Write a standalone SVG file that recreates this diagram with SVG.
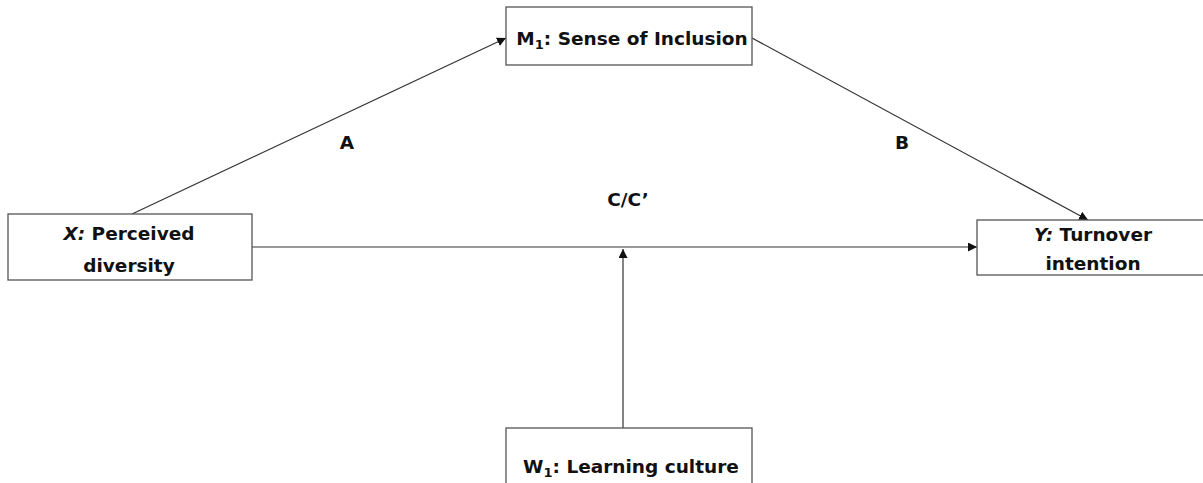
<svg xmlns="http://www.w3.org/2000/svg" width="1203" height="483" viewBox="0 0 1203 483">
<defs>
<style>
.box{fill:#fff;stroke:#555;stroke-width:1.3}
.t{font-family:"DejaVu Sans",Verdana,sans-serif;font-weight:bold;font-size:18.5px;fill:#111;text-anchor:middle}
.sub{font-size:13px}
.ln{stroke:#333;stroke-width:1.2;fill:none}
</style>
<marker id="ah" viewBox="0 0 10 10" refX="10" refY="5" markerWidth="9" markerHeight="9" markerUnits="userSpaceOnUse" orient="auto">
<path d="M0,0 L10,5 L0,10 Z" fill="#111"/>
</marker>
</defs>
<rect width="1203" height="483" fill="#fff"/>
<g id="connectors">
<line class="ln" x1="132" y1="214" x2="506" y2="38" marker-end="url(#ah)"/>
<line class="ln" x1="752" y1="38" x2="1088" y2="220" marker-end="url(#ah)"/>
<line class="ln" x1="252" y1="247" x2="977" y2="247" marker-end="url(#ah)"/>
<line class="ln" x1="623" y1="428" x2="623" y2="249" marker-end="url(#ah)"/>
<text class="t" x="347" y="149">A</text>
<text class="t" x="902" y="149">B</text>
<text class="t" x="628" y="206">C/C’</text>
</g>
<g id="m1">
<rect class="box" x="506" y="7" width="246" height="58"/>
<text class="t" x="632" y="45">M<tspan class="sub" dy="4">1</tspan><tspan dy="-4">: Sense of Inclusion</tspan></text>
</g>
<g id="x">
<rect class="box" x="8" y="214" width="244" height="66"/>
<text class="t" x="129" y="240"><tspan font-style="italic">X:</tspan> Perceived</text>
<text class="t" x="129" y="272">diversity</text>
</g>
<g id="y">
<rect class="box" x="977" y="220" width="240" height="55"/>
<text class="t" x="1093" y="241"><tspan font-style="italic">Y:</tspan> Turnover</text>
<text class="t" x="1093" y="270">intention</text>
</g>
<g id="w1">
<rect class="box" x="506" y="428" width="246" height="70"/>
<text class="t" x="631" y="473">W<tspan class="sub" dy="4">1</tspan><tspan dy="-4">: Learning culture</tspan></text>
</g>
</svg>
